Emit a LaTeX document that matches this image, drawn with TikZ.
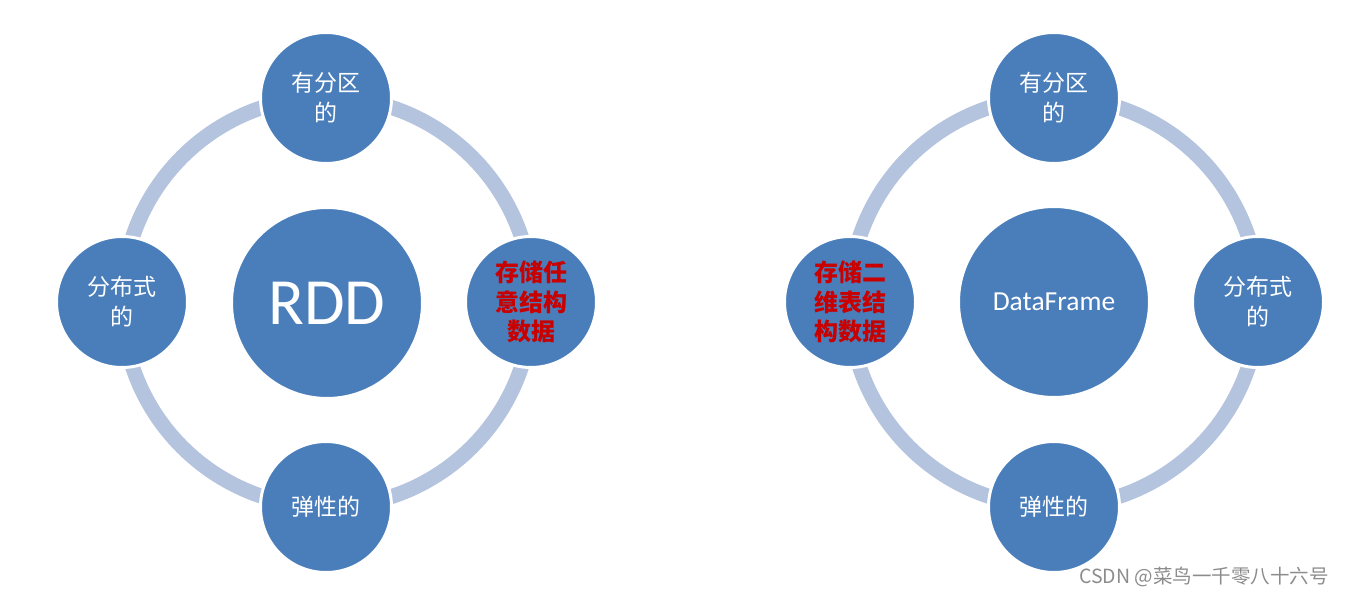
\documentclass[tikz,border=0pt]{standalone}
\usepackage{fontspec}
\newfontfamily\cjk{Noto Sans CJK SC}
\newfontfamily\calib{Carlito}
\definecolor{nodeblue}{HTML}{4A7EBB}
\definecolor{ringblue}{HTML}{B4C3DE}
\definecolor{redtext}{HTML}{C80000}
\definecolor{wmgray}{HTML}{8C8C8C}
\tikzset{
  ring/.style={draw=ringblue, line width=15pt, line cap=butt},
  smallnode/.style={circle, fill=nodeblue, draw=white, line width=3pt, minimum size=131pt, inner sep=0pt, align=center, text=white, font={\cjk\fontsize{23}{30}\selectfont}},
  bignode/.style={circle, fill=nodeblue, draw=white, line width=3pt, minimum size=191pt, inner sep=0pt, align=center, text=white},
  redlabel/.style={text=redtext, font={\cjk\bfseries\fontsize{24}{29.5}\selectfont}},
}
\begin{document}
\begin{tikzpicture}[x=1pt, y=-1pt]
\useasboundingbox (0,0) rectangle (1345,596);
% rings
\foreach \cx in {327,1054}{
  \foreach \a in {18,108,198,288}{
    \draw[ring] ([shift={(\cx,302)}]\a:205) arc[start angle=\a, end angle=\a+54, radius=205];
  }
}
% left diagram
\node[bignode, font={\calib\fontsize{66}{70}\selectfont}] (rdd) at (327,303) {RDD};
\node[smallnode] (l1) at (326,98) {有分区\\的};
\node[smallnode] (l2) at (122,302) {分布式\\的};
\node[smallnode, redlabel] (l3) at (531,302) {存储任\\意结构\\数据};
\node[smallnode] (l4) at (326,507) {弹性的};
% right diagram
\node[bignode, font={\calib\fontsize{27.5}{30}\selectfont}] (df) at (1054,302) {DataFrame};
\node[smallnode] (r1) at (1054,98) {有分区\\的};
\node[smallnode, redlabel] (r2) at (850,302) {存储二\\维表结\\构数据};
\node[smallnode] (r3) at (1258,302) {分布式\\的};
\node[smallnode] (r4) at (1054,507) {弹性的};
% watermark
\node[anchor=east, text=wmgray, inner sep=0pt, font={\cjk\fontsize{19.5}{21}\selectfont}] (wm) at (1329,577) {CSDN @菜鸟一千零八十六号};
\end{tikzpicture}
\end{document}
